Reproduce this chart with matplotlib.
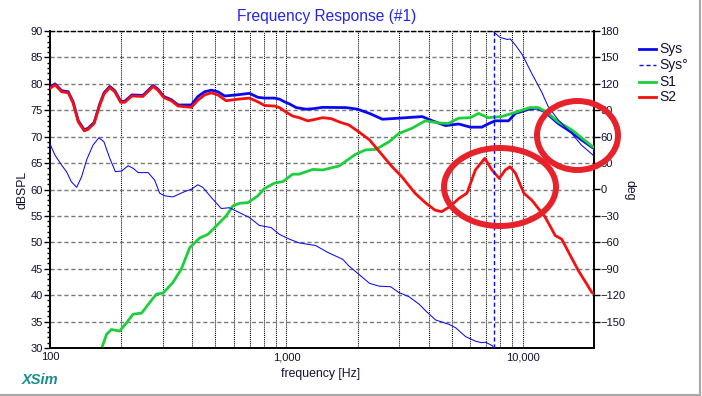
import numpy as np
import matplotlib
matplotlib.use("Agg")
import matplotlib.pyplot as plt
from matplotlib.lines import Line2D
from matplotlib.patches import Ellipse
from matplotlib.ticker import FixedLocator, NullFormatter

plt.rcParams['font.family'] = ['Liberation Sans', 'DejaVu Sans']

# ---------------- data ----------------
s2_f = [100, 105, 112, 119.5, 125.4, 131.7, 139.6, 145, 153.7, 162.4, 169.3, 179, 188, 199, 207,
        222, 247, 273, 286, 303, 326, 348, 396, 422, 451, 481, 513, 556, 624, 698, 757, 809,
        890, 935, 1000, 1063, 1131, 1230, 1300, 1425, 1550, 1670, 1840, 2025, 2245, 2470, 2800,
        3080, 3500, 3870, 4250, 4530, 4910, 5360, 5800, 6300, 6900, 7400, 7950, 8430, 8830,
        9300, 10100, 10900, 12400, 13200, 13700, 14600, 15800, 17200, 18400, 19600, 20000]
s2_db = [79.15, 79.8, 78.5, 78.3, 76.3, 72.8, 71.1, 71.4, 72.5, 76.0, 78.1, 79.3, 78.5, 76.5, 76.5,
         77.7, 77.6, 79.5, 78.8, 77.4, 76.8, 75.8, 75.55, 76.9, 77.9, 78.3, 77.9, 76.8, 77.1, 77.3,
         76.6, 75.9, 75.8, 75.5, 74.6, 73.9, 73.6, 73.0, 73.2, 73.6, 73.4, 72.8, 72.2, 70.9, 69.4,
         67.2, 64.3, 62.4, 59.3, 57.5, 56.1, 55.8, 56.75, 58.3, 59.3, 63.7, 65.9, 63.7, 62.1, 63.7,
         64.3, 63.1, 59.3, 58.0, 54.85, 52.65, 51.3, 50.6, 47.7, 44.6, 42.5, 40.5, 40.3]

sys_f = [100, 105, 112, 119.5, 125.4, 131.7, 139.6, 145, 153.7, 162.4, 169.3, 179, 188, 199, 207,
         222, 247, 273, 286, 303, 326, 348, 396, 422, 451, 481, 513, 548, 614, 698, 757, 809, 890,
         935, 981, 1030, 1100, 1211, 1300, 1425, 1788, 2000, 2245, 2548, 2989, 3755, 4144, 4703,
         5358, 6000, 6700, 7200, 7630, 8700, 9300, 10600, 11460, 12400, 14100, 16100, 17700,
         19600, 20000]
sys_db = [79.35, 80.0, 78.7, 78.5, 76.5, 73.0, 71.3, 71.6, 72.7, 76.2, 78.3, 79.5, 78.7, 76.7, 76.7,
          77.9, 77.8, 79.7, 79.0, 77.6, 77.0, 76.0, 76.0, 77.6, 78.5, 78.8, 78.5, 77.7, 77.9, 78.2,
          77.45, 77.3, 77.3, 77.1, 76.6, 76.2, 75.5, 75.2, 75.3, 75.55, 75.5, 75.2, 74.4, 73.3,
          73.5, 73.8, 73.0, 72.1, 72.4, 71.8, 71.8, 72.5, 73.0, 73.0, 74.4, 75.2, 75.4, 74.7, 72.5,
          70.8, 69.4, 68.0, 67.8]

s1_f = [166.8, 173.5, 182, 197, 211, 224.6, 244, 264, 282, 301, 331, 359, 390, 429, 465, 505, 556,
        594, 634, 687, 757, 808, 890, 966, 1063, 1131, 1293, 1425, 1670, 1966, 2166, 2390, 2720,
        2990, 3400, 3870, 4400, 4840, 5360, 6000, 6500, 7130, 8130, 9300, 10700, 11600, 12600,
        14100, 16100, 17700, 19600, 20000]
s1_db = [30.4, 32.6, 33.5, 33.2, 34.8, 36.4, 36.6, 38.6, 40.2, 40.4, 42.4, 44.9, 49.0, 50.8, 51.5,
         53.1, 55.0, 56.9, 57.4, 57.5, 58.8, 60.2, 61.2, 61.5, 62.9, 62.9, 63.8, 63.7, 64.45, 66.7,
         67.5, 67.6, 69.05, 70.6, 71.6, 73.0, 72.6, 72.5, 73.5, 73.6, 74.4, 73.6, 73.8, 74.6, 75.5,
         75.5, 74.7, 72.8, 71.3, 69.8, 68.2, 68.0]

ph_f = [100, 105, 112, 117.6, 123, 129.6, 136, 143, 152, 161, 169, 179, 189, 201, 214, 225, 236,
        260, 277, 291, 306, 331, 371, 396, 422, 443, 481, 513, 530, 574, 634, 698, 768, 861, 935,
        1030, 1131, 1328, 1510, 1730, 1840, 2025, 2245, 2470, 2760, 2990, 3300, 3640, 3950, 4280,
        4860, 5190, 5730, 6300, 6700, 6960, 7450, 7530, 7530, 7560, 8000, 8590, 8840, 9300, 9950,
        10900, 12000, 12800, 14100, 16100, 17700, 19600, 20000]
ph_deg = [51.6, 39, 27.6, 20, 9, 2.4, 14.4, 34, 50.4, 58.8, 54.3, 35.4, 20.3, 21, 27, 24, 19.2,
          19.2, 10.8, -4.2, -7.2, -8.4, -2.4, 0.3, 5.4, 2.4, -9, -17.4, -21.6, -20.7, -26.4, -31.8,
          -40.8, -43.2, -51, -56.4, -60.6, -63.6, -72, -79.2, -87, -96.3, -106.5, -109.8, -110.4,
          -117, -121.8, -130.2, -139.8, -148.2, -153, -156.9, -167.1, -172.2, -174, -173.4, -177.6,
          -180, 180, 178.5, 172.8, 170.4, 171, 164.1, 153, 132, 111, 94.2, 79.2, 63.6, 50.4, 40.2, 38]

legend_labels = ['Sys', 'Sys°', 'S1', 'S2']
x_major = [100, 1000, 10000]
x_major_labels = ['100', '1,000', '10,000']
y_left_ticks = list(range(30, 91, 5))
y_right_ticks = list(range(-150, 181, 30))

# ---------------- figure ----------------
W, H = 702, 396
fig = plt.figure(figsize=(W / 100, H / 100), dpi=100)
fig.patch.set_facecolor('white')
ax = fig.add_axes([50 / W, 48 / H, 544 / W, 317 / H])

C_SYS = '#0a0af0'
C_S1 = '#1ecf3c'
C_S2 = '#f41010'
C_TXT = '#101030'

ax.set_xscale('log')
ax.set_xlim(100, 20000)
ax.set_ylim(30, 90)

# grid
ax.set_axisbelow(True)
minor_x = [m * d for d in (100, 1000, 10000) for m in range(2, 10) if m * d < 20000]
ax.xaxis.set_major_locator(FixedLocator(x_major))
ax.xaxis.set_minor_locator(FixedLocator(minor_x))
ax.set_xticklabels(x_major_labels)
ax.xaxis.set_minor_formatter(NullFormatter())
ax.grid(which='both', axis='x', color='black', linestyle=(0, (1, 1)), linewidth=0.75)
ax.set_yticks(y_left_ticks)
ax.set_yticks(np.arange(30, 91, 1), minor=True)
ax.grid(which='major', axis='y', color='#7a7a7a', linestyle=(0, (3, 2)), linewidth=1.0)

ax.tick_params(axis='x', which='both', length=0, pad=3, labelsize=8, labelcolor=C_TXT)
ax.tick_params(axis='y', which='major', length=4, width=1, pad=1, labelsize=8,
               labelcolor=C_TXT, direction='out')
ax.tick_params(axis='y', which='minor', length=2, width=1, direction='out')

for s in ['left', 'right', 'bottom']:
    ax.spines[s].set_linewidth(1.4)
    ax.spines[s].set_color('black')
ax.spines['top'].set_linestyle((0, (3, 2)))
ax.spines['top'].set_linewidth(1.0)
ax.spines['top'].set_color('black')

# curves
l_sys, = ax.plot(sys_f, sys_db, color=C_SYS, lw=2.0, solid_joinstyle='round', zorder=3)
l_s1, = ax.plot(s1_f, s1_db, color=C_S1, lw=2.0, solid_joinstyle='round', zorder=3)
l_s2, = ax.plot(s2_f, s2_db, color=C_S2, lw=2.0, solid_joinstyle='round', zorder=3)

ax2 = ax.twinx()
ax2.set_ylim(-180, 180)
ax2.set_yticks(y_right_ticks)
ax2.tick_params(axis='y', length=4, width=1, pad=0.5, labelsize=8, labelcolor=C_TXT)
for s in ax2.spines.values():
    s.set_visible(False)

ph_f_a = np.array(ph_f)
ph_a = np.array(ph_deg)
jump = int(np.argmax(np.abs(np.diff(ph_a)) > 180))
ax2.plot(ph_f_a[:jump + 1], ph_a[:jump + 1], color=C_SYS, lw=0.75)
ax2.plot(ph_f_a[jump + 1:], ph_a[jump + 1:], color=C_SYS, lw=0.75)
ax2.plot(ph_f_a[jump:jump + 2], ph_a[jump:jump + 2], color=C_SYS, lw=1.0,
         linestyle=(0, (3, 2)))

# ---------------- texts ----------------
def fx(px):
    return px / W

def fy(py):
    return 1 - py / H

fig.text(fx(327), fy(17), 'Frequency Response (#1)', color='#2323f0', fontsize=11.2,
         ha='center', va='center')
fig.text(fx(321), fy(374), 'frequency [Hz]', color=C_TXT, fontsize=8.8,
         ha='center', va='center')
fig.text(fx(22), fy(190), 'dBSPL', color=C_TXT, fontsize=8.8, rotation=90,
         ha='center', va='center')
fig.text(fx(630), fy(190), 'deg', color=C_TXT, fontsize=8.8, rotation=270,
         ha='center', va='center')
fig.text(fx(22), fy(380), 'XSim', color='#188c8c', fontsize=10.5, fontweight='bold',
         style='italic', ha='left', va='center')

# legend (manual)
leg_y = [49.3, 65.0, 81.7, 97.3]
leg_styles = [dict(color=C_SYS, lw=2.0, ls='-'),
              dict(color=C_SYS, lw=1.0, ls=(0, (3, 2))),
              dict(color=C_S1, lw=2.0, ls='-'),
              dict(color=C_S2, lw=2.0, ls='-')]
for lab, yy, st in zip(legend_labels, leg_y, leg_styles):
    fig.add_artist(Line2D([fx(639), fx(656)], [fy(yy), fy(yy)], transform=fig.transFigure,
                          color=st['color'], lw=st['lw'], linestyle=st['ls']))
    fig.text(fx(659), fy(yy), lab, color=C_TXT, fontsize=10, ha='left', va='center')

# window border
fig.add_artist(Line2D([0, fx(700)], [fy(394.5), fy(394.5)], transform=fig.transFigure,
                      color='#a8a8a8', lw=1.5))
fig.add_artist(Line2D([fx(700), fx(700)], [fy(394.5), 1], transform=fig.transFigure,
                      color='#a8a8a8', lw=1.5))

# annotation ellipses
C_ELL = '#e8222a'
fig.add_artist(Ellipse((fx(500), fy(187)), 112 / W, 78 / H, transform=fig.transFigure,
                       fill=False, edgecolor=C_ELL, lw=4.3, zorder=10))
fig.add_artist(Ellipse((fx(577.5), fy(135.5)), 81 / W, 69 / H, transform=fig.transFigure,
                       fill=False, edgecolor=C_ELL, lw=4.3, zorder=10))

fig.savefig('out.png', dpi=100)
